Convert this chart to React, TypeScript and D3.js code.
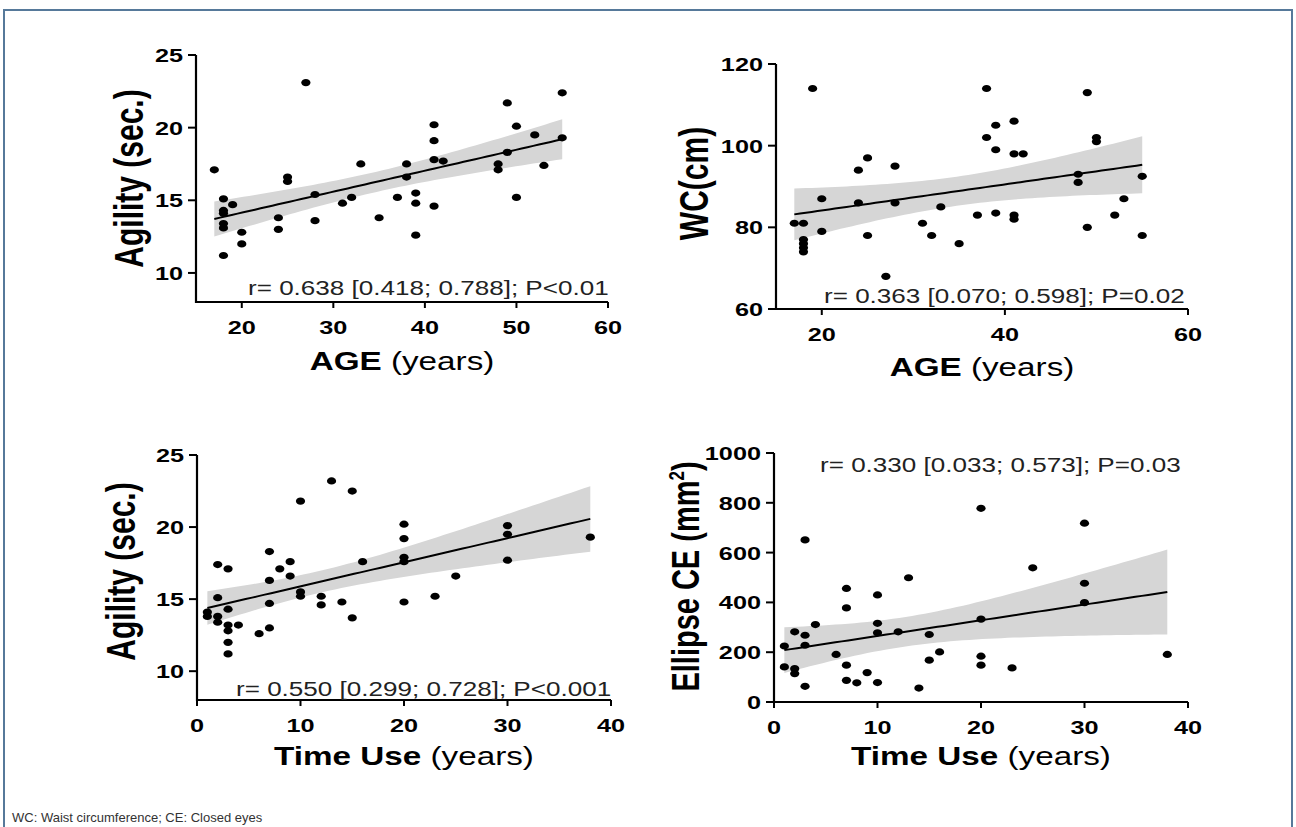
import React from 'react';
import * as d3 from 'd3';

// panel 1: age vs agility
const p1Age = [17, 27, 18, 18, 18, 18, 18, 18, 19, 20, 20, 24, 24, 25, 25, 28, 28, 31, 32, 33, 35, 37, 38, 38, 39, 39, 39, 41, 41, 41, 41, 42, 48, 48, 49, 49, 50, 50, 52, 53, 55, 55];
const p1Agility = [17.1, 23.1, 15.1, 14.3, 14.1, 13.4, 13.1, 11.2, 14.7, 12.8, 12.0, 13.8, 13.0, 16.6, 16.3, 15.4, 13.6, 14.8, 15.2, 17.5, 13.8, 15.2, 17.5, 16.6, 15.5, 14.8, 12.6, 20.2, 19.1, 17.8, 14.6, 17.7, 17.5, 17.1, 21.7, 18.3, 20.1, 15.2, 19.5, 17.4, 22.4, 19.3];

// panel 2: age vs waist circumference
const p2Age = [17, 18, 18, 18, 18, 18, 19, 20, 20, 24, 24, 25, 25, 27, 28, 28, 31, 32, 33, 35, 37, 38, 38, 39, 39, 39, 41, 41, 41, 41, 42, 48, 48, 49, 49, 50, 50, 52, 53, 55, 55];
const p2Wc = [81, 81, 77, 76, 75, 74, 114, 87, 79, 94, 86, 97, 78, 68, 95, 86, 81, 78, 85, 76, 83, 114, 102, 105, 99, 83.5, 106, 98, 83, 82, 98, 93, 91, 113, 80, 102, 101, 83, 87, 92.5, 78];

// panel 3: time use vs agility
const p3Time = [1, 1, 2, 2, 2, 2, 3, 3, 3, 3, 3, 3, 4, 6, 7, 7, 7, 7, 8, 9, 9, 10, 10, 10, 12, 12, 13, 14, 15, 15, 16, 20, 20, 20, 20, 20, 23, 25, 30, 30, 30, 38];
const p3Agility = [14.1, 13.8, 17.4, 15.1, 13.8, 13.4, 17.1, 14.3, 13.2, 12.8, 12.0, 11.2, 13.2, 12.6, 18.3, 16.3, 14.7, 13.0, 17.1, 17.6, 16.6, 21.8, 15.5, 15.2, 15.2, 14.6, 23.2, 14.8, 22.5, 13.7, 17.6, 20.2, 19.2, 17.9, 17.6, 14.8, 15.2, 16.6, 20.1, 19.5, 17.7, 19.3];

// panel 4: time use vs ellipse CE
const p4Time = [1, 1, 2, 2, 2, 3, 3, 3, 3, 4, 6, 7, 7, 7, 7, 8, 9, 10, 10, 10, 10, 12, 13, 14, 15, 15, 16, 20, 20, 20, 20, 23, 25, 30, 30, 30, 38];
const p4Ellipse = [225, 141, 282, 134, 114, 651, 268, 228, 63, 311, 191, 456, 378, 148, 87, 77, 118, 430, 316, 278, 78, 282, 499, 56, 271, 168, 201, 778, 333, 184, 148, 137, 539, 718, 477, 399, 191];

const ageTicks = [20, 30, 40, 50, 60];
const ageTicksWide = [20, 40, 60];
const timeTicks = [0, 10, 20, 30, 40];
const agilityTicks = [10, 15, 20, 25];
const wcTicks = [60, 80, 100, 120];
const ellipseTicks = [0, 200, 400, 600, 800, 1000];

const notes = [
  'r= 0.638 [0.418; 0.788]; P<0.01',
  'r= 0.363 [0.070; 0.598]; P=0.02',
  'r= 0.550 [0.299; 0.728]; P<0.001',
  'r= 0.330 [0.033; 0.573]; P=0.03',
];

const FONT = '"Liberation Sans", Arial, Helvetica, sans-serif';
const SX = 1.33; // source image is stretched sideways

function tCrit(df) {
  const z = 1.959964;
  return z + (z ** 3 + z) / (4 * df) + (5 * z ** 5 + 16 * z ** 3 + 3 * z) / (96 * df * df);
}

// least squares fit + 95% confidence band of the line
function fit(xs, ys) {
  const n = xs.length;
  const mx = d3.mean(xs), my = d3.mean(ys);
  let sxx = 0, sxy = 0;
  xs.forEach((x, i) => { sxx += (x - mx) ** 2; sxy += (x - mx) * (ys[i] - my); });
  const b = sxy / sxx, a = my - b * mx;
  const sse = d3.sum(xs, (x, i) => (ys[i] - a - b * x) ** 2);
  const s = Math.sqrt(sse / (n - 2));
  const t = tCrit(n - 2);
  const [x0, x1] = d3.extent(xs);
  return d3.range(0, 61).map(k => {
    const x = x0 + (x1 - x0) * k / 60;
    const yh = a + b * x;
    const h = t * s * Math.sqrt(1 / n + (x - mx) ** 2 / sxx);
    return { x, y: yh, lo: yh - h, hi: yh + h };
  });
}

function SText({ x, y, children, size, weight = 'normal', anchor = 'start', rotate = false, fill = '#000' }) {
  const tr = `translate(${x},${y}) scale(${SX},1)` + (rotate ? ' rotate(-90)' : '');
  return (
    <text transform={tr} fontSize={size} fontWeight={weight} textAnchor={anchor} fill={fill} fontFamily={FONT}>
      {children}
    </text>
  );
}

function Panel(p) {
  const x = d3.scaleLinear().domain(p.xDom).range([p.left, p.right]);
  const y = d3.scaleLinear().domain(p.yDom).range([p.bottom, p.top]);
  const band = fit(p.xs, p.ys);
  const area = d3.area().x(d => x(d.x)).y0(d => y(d.lo)).y1(d => y(d.hi));
  const line = d3.line().x(d => x(d.x)).y(d => y(d.y));
  const cy = (p.top + p.bottom) / 2;
  return (
    <g>
      <path d={area(band)} fill="#d6d6d6" />
      <path d={line(band)} fill="none" stroke="#000" strokeWidth={2} />
      {p.xs.map((v, i) => (
        <ellipse key={i} cx={x(v)} cy={y(p.ys[i])} rx={4.6} ry={3.6} fill="#000" />
      ))}
      <path d={`M${p.left},${p.top}V${p.bottom}H${p.right}`} fill="none" stroke="#000" strokeWidth={2.2} />
      {p.yTicks.map(t => (
        <g key={'y' + t}>
          <line x1={p.left - 8} x2={p.left} y1={y(t)} y2={y(t)} stroke="#000" strokeWidth={2} />
          <SText x={p.left - 13} y={y(t) + 7} size={19} weight="bold" anchor="end">{t}</SText>
        </g>
      ))}
      {p.xTicks.map(t => (
        <g key={'x' + t}>
          <line x1={x(t)} x2={x(t)} y1={p.bottom} y2={p.bottom + 6} stroke="#000" strokeWidth={2} />
          <SText x={x(t)} y={p.bottom + 32} size={19} weight="bold" anchor="middle">{t}</SText>
        </g>
      ))}
      <SText x={(p.left + p.right) / 2} y={p.xTitleY} size={25} anchor="middle">
        <tspan fontWeight="bold">{p.xBold}</tspan>
        <tspan> (years)</tspan>
      </SText>
      <SText x={p.yTitleX} y={cy + (p.yShift || 0)} size={p.yTitleSize || 30} weight="bold" anchor="middle" rotate>
        {p.yTitle}
      </SText>
      <SText x={p.noteX} y={p.noteY} size={19.6} fill="#222">{p.note}</SText>
    </g>
  );
}

export default function App() {
  return (
    <svg width={1296} height={827} style={{ position: 'absolute', left: 0, top: 0, background: '#fff' }}>
      <rect x={4} y={10} width={1288} height={840} fill="#fff" stroke="#56799a" strokeWidth={2} />
      <Panel xs={p1Age} ys={p1Agility} xDom={[15, 60]} yDom={[8, 25]}
        left={196} right={608} top={55} bottom={302}
        xTicks={ageTicks} yTicks={agilityTicks}
        xBold="AGE" xTitleY={370} yTitle="Agility (sec.)" yTitleX={143}
        note={notes[0]} noteX={248} noteY={295} />
      <Panel xs={p2Age} ys={p2Wc} xDom={[15, 60]} yDom={[60, 120]}
        left={776} right={1188} top={64} bottom={309}
        xTicks={ageTicksWide} yTicks={wcTicks}
        xBold="AGE" xTitleY={376} yTitle="WC(cm)" yTitleX={708} yShift={-3}
        note={notes[1]} noteX={824} noteY={303} />
      <Panel xs={p3Time} ys={p3Agility} xDom={[0, 40]} yDom={[8, 25]}
        left={197} right={611} top={455} bottom={700}
        xTicks={timeTicks} yTicks={agilityTicks}
        xBold="Time Use" xTitleY={765} yTitle="Agility (sec.)" yTitleX={135} yShift={-6}
        note={notes[2]} noteX={236} noteY={696} />
      <Panel xs={p4Time} ys={p4Ellipse} xDom={[0, 40]} yDom={[0, 1000]}
        left={774} right={1188} top={453} bottom={702}
        xTicks={timeTicks} yTicks={ellipseTicks}
        xBold="Time Use" xTitleY={765}
        yTitle={<>Ellipse CE (mm<tspan fontSize="17" dy="-11">2</tspan><tspan dy="11">)</tspan></>}
        yTitleX={699} yShift={-1} yTitleSize={29}
        note={notes[3]} noteX={820} noteY={472} />
      <text x={12} y={822} fontSize={13} fontFamily={FONT} fill="#333">WC: Waist circumference; CE: Closed eyes</text>
    </svg>
  );
}
